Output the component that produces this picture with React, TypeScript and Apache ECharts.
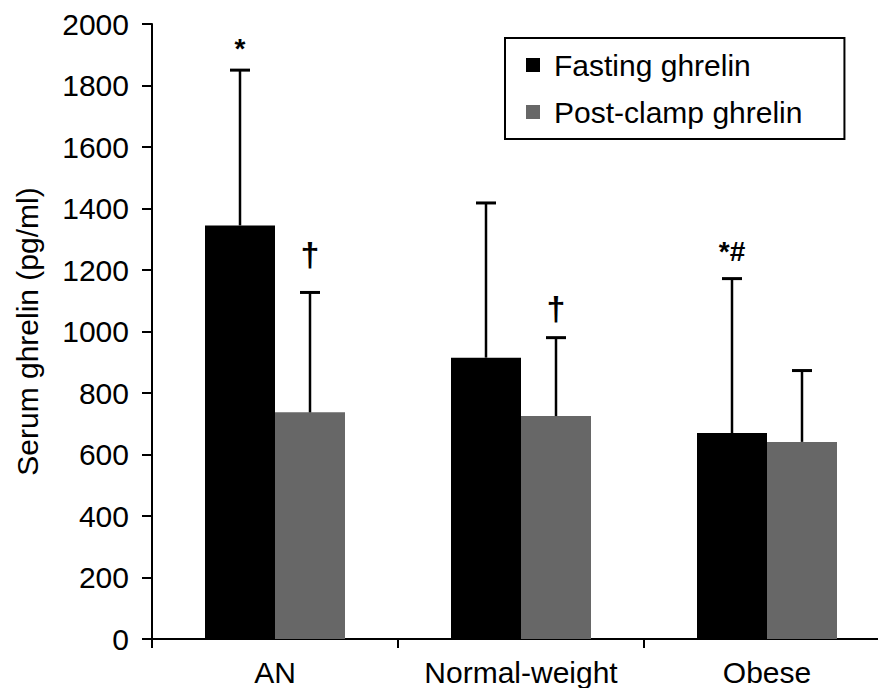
import React, { useEffect, useRef } from "react";
import * as echarts from "echarts";

// Serum ghrelin by group, mean with upward SD bar
const groups = ["AN", "Normal-weight", "Obese"];
const seriesNames = ["Fasting ghrelin", "Post-clamp ghrelin"];
const fastingMean = [1345, 915, 670];
const fastingSD = [505, 503, 502];
const postClampMean = [737, 725, 641];
const postClampSD = [390, 255, 232];

// y axis scale
const yMin = 0;
const yMax = 2000;
const yStep = 200;

// significance marks drawn above the error bars
const marks = [
  { group: 0, series: 0, text: "*" },
  { group: 0, series: 1, text: "\u2020" },
  { group: 1, series: 1, text: "\u2020" },
  { group: 2, series: 0, text: "*#" },
];
// pixel lift of each mark above its error-bar cap, and its font size
const markLift = [22, 38, 30, 27];
const markSize = [28, 34, 34, 28];

const FONT = '"Liberation Sans", Arial, Helvetica, sans-serif';
const BAR_W = 70;

export default function App() {
  const ref = useRef<HTMLDivElement>(null);

  useEffect(() => {
    if (!ref.current) return;
    const chart = echarts.init(ref.current, null, { renderer: "svg" });

    const means = [fastingMean, postClampMean];
    const sds = [fastingSD, postClampSD];
    const errData: any[] = [];
    for (let s = 0; s < 2; s++) {
      for (let g = 0; g < groups.length; g++) {
        const mi = marks.findIndex((m) => m.group === g && m.series === s);
        errData.push([g, means[s][g], means[s][g] + sds[s][g], s, mi]);
      }
    }

    chart.setOption({
      animation: false,
      backgroundColor: "#fff",
      textStyle: { fontFamily: FONT },
      grid: {
        left: 152,
        top: 24,
        bottom: 49,
        right: -12,
        containLabel: false,
        outerBoundsMode: "none",
      },
      legend: {
        orient: "vertical",
        left: 505,
        top: 38,
        icon: "rect",
        itemWidth: 14,
        itemHeight: 14,
        itemGap: 17,
        padding: [12, 42, 12, 21],
        borderColor: "#000",
        borderWidth: 2,
        data: seriesNames,
        textStyle: {
          fontFamily: FONT,
          fontSize: 30,
          lineHeight: 30,
          color: "#000",
          padding: [0, 0, 0, 9],
        },
      },
      xAxis: {
        type: "category",
        data: groups,
        boundaryGap: true,
        axisLine: { lineStyle: { color: "#000", width: 2 } },
        axisTick: { show: true, length: 9, lineStyle: { color: "#000", width: 2 } },
        axisLabel: {
          color: "#000",
          fontSize: 30,
          fontFamily: FONT,
          margin: 18,
          interval: 0,
          hideOverlap: false,
        },
      },
      yAxis: {
        type: "value",
        min: yMin,
        max: yMax,
        interval: yStep,
        name: "Serum ghrelin (pg/ml)",
        nameLocation: "middle",
        nameGap: 110,
        nameTextStyle: { color: "#000", fontSize: 30, fontFamily: FONT },
        splitLine: { show: false },
        axisLine: { show: true, lineStyle: { color: "#000", width: 2 } },
        axisTick: { show: true, length: 10, lineStyle: { color: "#000", width: 2 } },
        axisLabel: {
          color: "#000",
          fontSize: 30,
          fontFamily: FONT,
          margin: 23,
          formatter: (v: number) => String(v),
        },
      },
      series: [
        {
          name: seriesNames[0],
          type: "bar",
          data: fastingMean,
          barWidth: BAR_W,
          barGap: "0%",
          itemStyle: { color: "#000" },
        },
        {
          name: seriesNames[1],
          type: "bar",
          data: postClampMean,
          barWidth: BAR_W,
          barGap: "0%",
          itemStyle: { color: "#676767" },
        },
        {
          type: "custom",
          data: errData,
          z: 5,
          renderItem: (_params: any, api: any) => {
            const g = api.value(0);
            const s = api.value(3);
            const mi = api.value(4);
            const base = api.coord([g, api.value(1)]);
            const top = api.coord([g, api.value(2)]);
            const x = base[0] + (s === 0 ? -BAR_W / 2 : BAR_W / 2);
            const children: any[] = [
              {
                type: "line",
                shape: { x1: x, y1: base[1], x2: x, y2: top[1] },
                style: { stroke: "#000", lineWidth: 2.5 },
              },
              {
                type: "line",
                shape: { x1: x - 10, y1: top[1], x2: x + 10, y2: top[1] },
                style: { stroke: "#000", lineWidth: 3 },
              },
            ];
            if (mi >= 0) {
              children.push({
                type: "text",
                x,
                y: top[1] - markLift[mi],
                style: {
                  text: marks[mi].text,
                  fill: "#000",
                  font: `bold ${markSize[mi]}px ${FONT}`,
                  align: "center",
                  verticalAlign: "middle",
                },
              });
            }
            return { type: "group", children };
          },
        },
      ],
    });

    return () => chart.dispose();
  }, []);

  return (
    <div
      ref={ref}
      style={{ position: "fixed", left: 0, top: 0, width: 878, height: 688, background: "#fff" }}
    />
  );
}
